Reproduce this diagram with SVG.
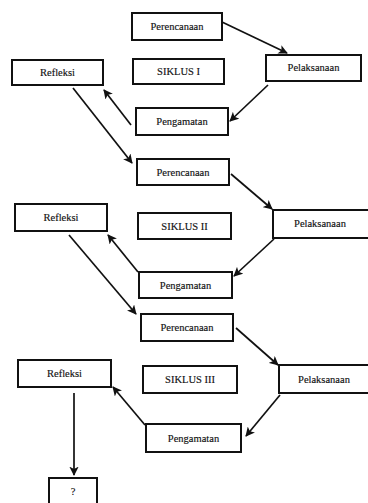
<svg xmlns="http://www.w3.org/2000/svg" width="368" height="503" viewBox="0 0 368 503">
<defs>
<style>
.box{fill:#fff;stroke:#111;stroke-width:2}
.t{font-family:"Liberation Serif","Times New Roman",serif;font-size:10.5px;fill:#111;stroke:#111;stroke-width:0.15;text-anchor:middle;dominant-baseline:central}
.c{stroke:#111;stroke-width:1.7;fill:none;marker-end:url(#ah)}
</style>
<marker id="ah" viewBox="0 0 10 10" refX="9" refY="5" markerWidth="5.5" markerHeight="5.5" orient="auto" markerUnits="strokeWidth">
<path d="M0,0 L10,5 L0,10 L2.5,5 Z" fill="#111"/>
</marker>
</defs>
<rect width="368" height="503" fill="#fff"/>
<g id="connectors">
<line class="c" x1="222" y1="22" x2="287" y2="53"/>
<line class="c" x1="268" y1="85" x2="230" y2="121"/>
<line class="c" x1="131" y1="125" x2="104" y2="90"/>
<line class="c" x1="73" y1="88" x2="132" y2="163"/>
<line class="c" x1="231" y1="174" x2="272" y2="209"/>
<line class="c" x1="274" y1="239" x2="234" y2="276"/>
<line class="c" x1="138" y1="272" x2="108" y2="235"/>
<line class="c" x1="69" y1="235" x2="136" y2="314"/>
<line class="c" x1="236" y1="328" x2="278" y2="365"/>
<line class="c" x1="280" y1="395" x2="246" y2="436"/>
<line class="c" x1="145" y1="425" x2="113" y2="387"/>
<line class="c" x1="74" y1="393" x2="74" y2="475"/>
</g>
<g id="perencanaan1"><rect class="box" x="132" y="13" width="90" height="27"/><text class="t" x="177" y="26.5">Perencanaan</text></g>
<g id="pelaksanaan1"><rect class="box" x="266" y="55" width="95" height="26"/><text class="t" x="313.5" y="67">Pelaksanaan</text></g>
<g id="refleksi1"><rect class="box" x="12" y="60" width="91" height="25"/><text class="t" x="57.5" y="72.5">Refleksi</text></g>
<g id="siklus1"><rect class="box" x="133" y="59" width="91" height="25"/><text class="t" x="178.5" y="71.5">SIKLUS I</text></g>
<g id="pengamatan1"><rect class="box" x="136" y="108" width="92" height="27"/><text class="t" x="182" y="121.5">Pengamatan</text></g>
<g id="perencanaan2"><rect class="box" x="137" y="159" width="92" height="26"/><text class="t" x="183" y="172">Perencanaan</text></g>
<g id="refleksi2"><rect class="box" x="15" y="204" width="92" height="27"/><text class="t" x="61" y="217">Refleksi</text></g>
<g id="siklus2"><rect class="box" x="138" y="213" width="93" height="26"/><text class="t" x="184.5" y="226">SIKLUS II</text></g>
<g id="pelaksanaan2"><rect class="box" x="273" y="210" width="97" height="28"/><text class="t" x="320" y="223">Pelaksanaan</text></g>
<g id="pengamatan2"><rect class="box" x="139" y="272" width="93" height="26"/><text class="t" x="185.5" y="285">Pengamatan</text></g>
<g id="perencanaan3"><rect class="box" x="141" y="314" width="92" height="27"/><text class="t" x="187" y="327">Perencanaan</text></g>
<g id="refleksi3"><rect class="box" x="18" y="360" width="93" height="27"/><text class="t" x="64.5" y="373">Refleksi</text></g>
<g id="siklus3"><rect class="box" x="143" y="366" width="94" height="27"/><text class="t" x="190" y="379.5">SIKLUS III</text></g>
<g id="pelaksanaan3"><rect class="box" x="279" y="365" width="91" height="28"/><text class="t" x="324" y="379">Pelaksanaan</text></g>
<g id="pengamatan3"><rect class="box" x="146" y="424" width="95" height="28"/><text class="t" x="193.5" y="438">Pengamatan</text></g>
<g id="question"><rect class="box" x="49" y="478" width="48" height="30"/><text class="t" x="73" y="491">?</text></g>
</svg>
